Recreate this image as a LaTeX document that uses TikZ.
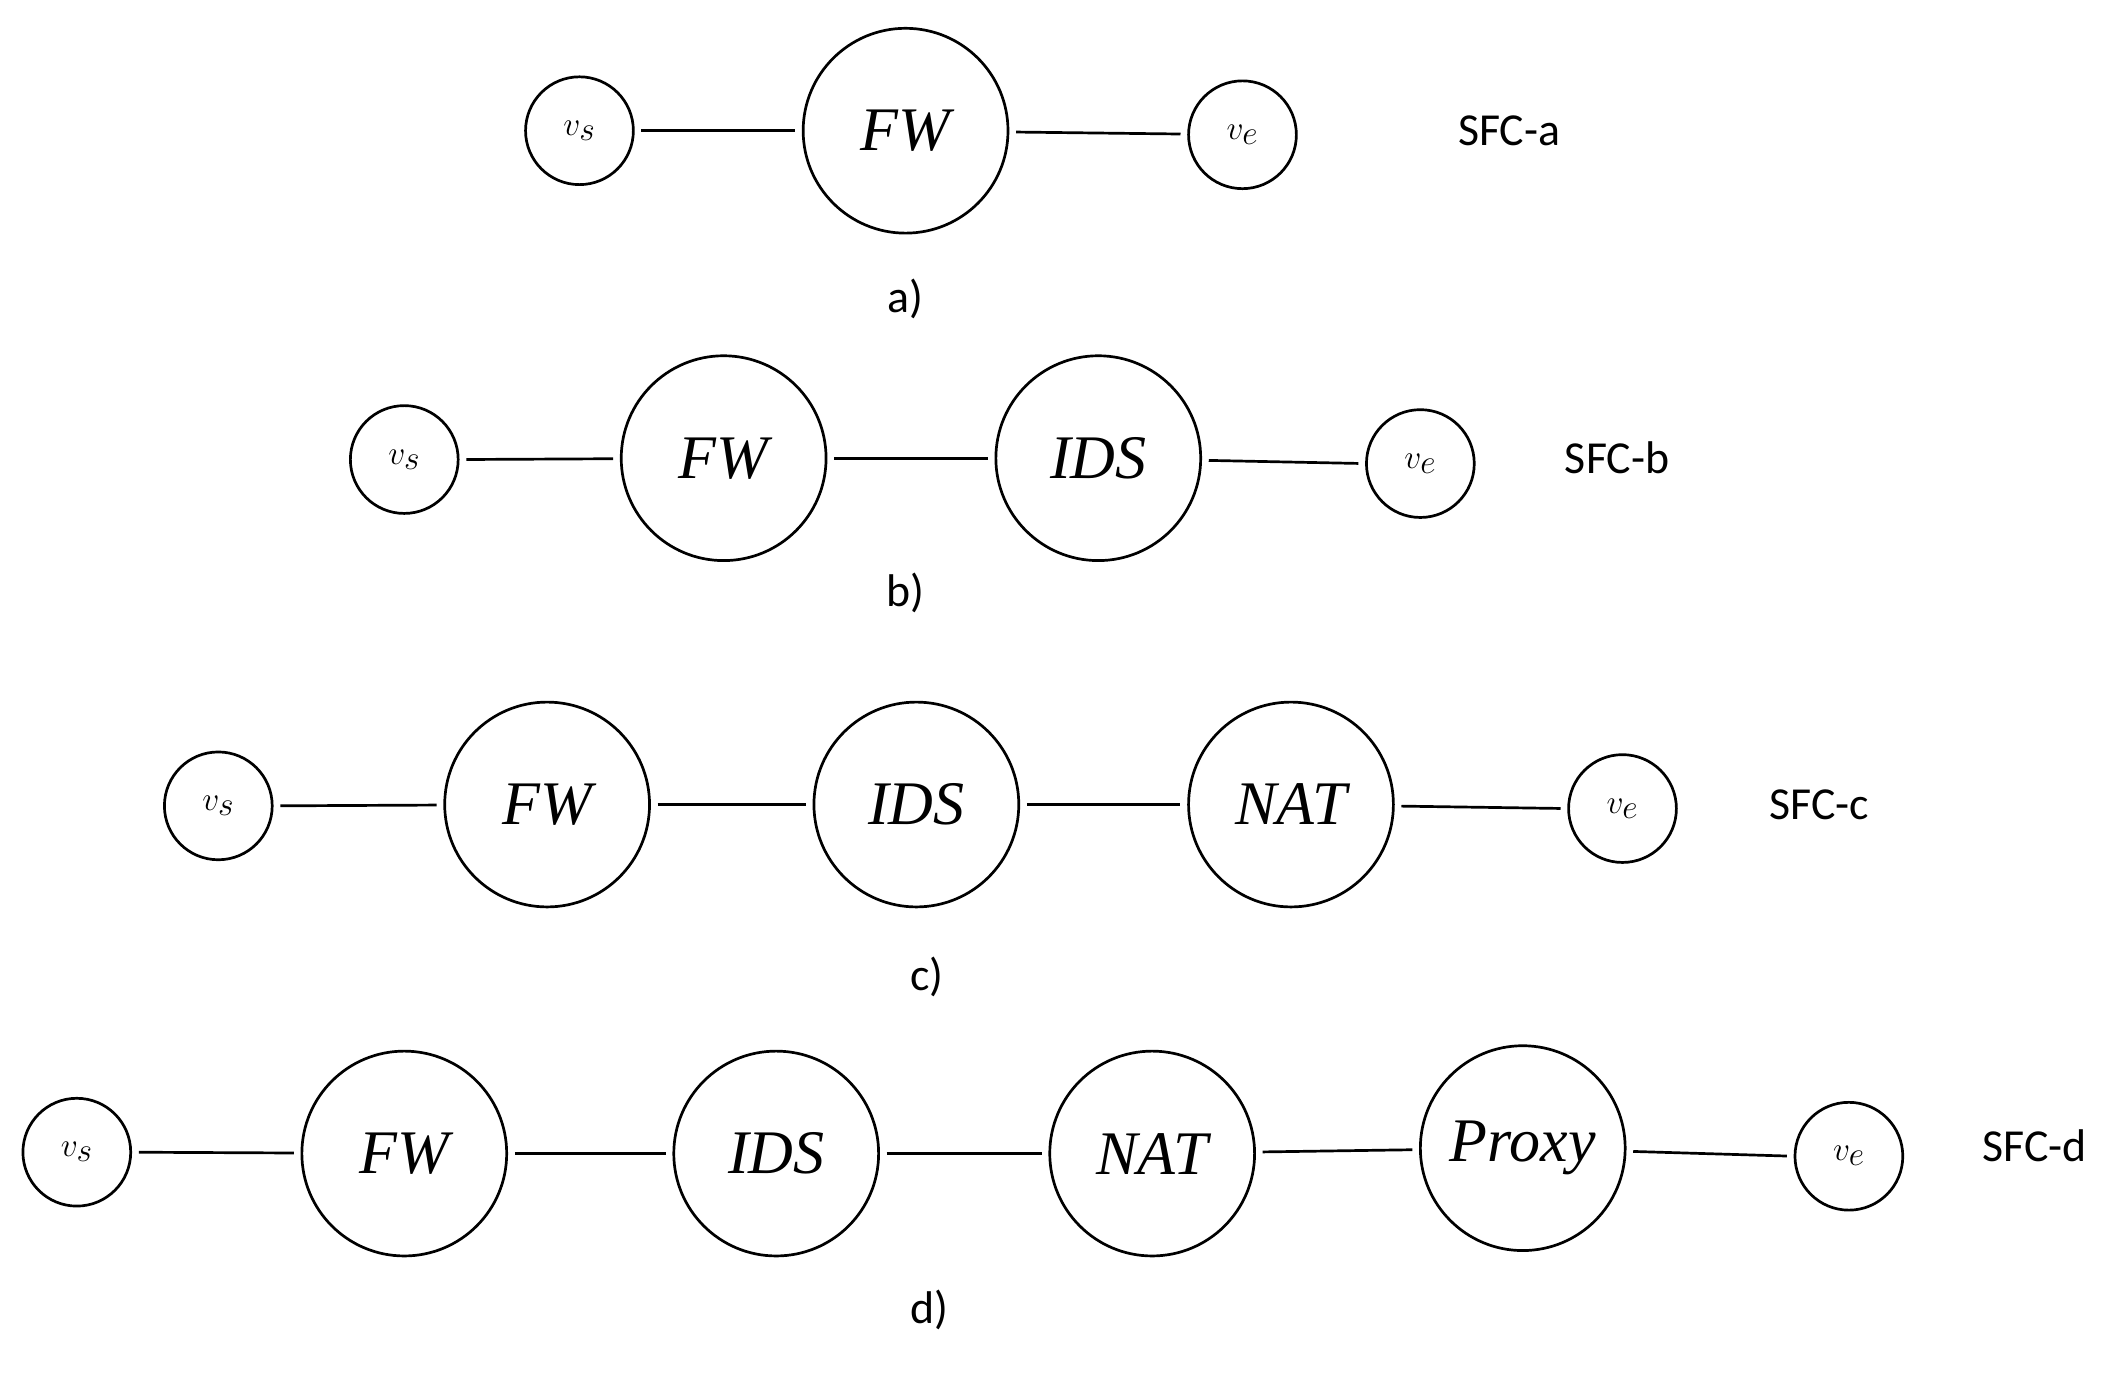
\documentclass[tikz,border=0pt]{standalone}
\usepackage{fontspec}
\setmainfont{Liberation Serif}
\newfontfamily\lab{Carlito}
\begin{document}
\begin{tikzpicture}[x=1pt,y=-1pt,
  big/.style={circle,draw,line width=2pt,minimum size=152pt,inner sep=0pt,font=\fontsize{46}{50}\selectfont\itshape},
  sm/.style={circle,draw,line width=2pt,minimum size=80pt,inner sep=0pt,font=\fontsize{46}{50}\selectfont\itshape},
  ln/.style={line width=2pt,shorten <=5pt,shorten >=5pt},
  tag/.style={font=\fontsize{34}{40}\selectfont\lab},
  sub/.style={font=\fontsize{34}{40}\selectfont\lab}]
\useasboundingbox (0,0) rectangle (1568,1020);
% a
\node[sm] (as) at (430,97) {$v_s$};
\node[big] (af) at (672,97) {FW};
\node[sm] (ae) at (922,100) {$v_e$};
\draw[ln] (as) -- (af); \draw[ln] (af) -- (ae);
\node[tag] (at) at (1120,97) {SFC-a};
\node[sub] (ac) at (672,222) {a)};
% b
\node[sm] (bs) at (300,341) {$v_s$};
\node[big] (bf) at (537,340) {FW};
\node[big] (bi) at (815,340) {IDS};
\node[sm] (be) at (1054,344) {$v_e$};
\draw[ln] (bs.east) -- (bf); \draw[ln] (bf) -- (bi); \draw[ln] (bi) -- (be.west);
\node[tag] (bt) at (1200,340) {SFC-b};
\node[sub] (bc) at (672,440) {b)};
% c
\node[sm] (cs) at (162,598) {$v_s$};
\node[big] (cf) at (406,597) {FW};
\node[big] (ci) at (680,597) {IDS};
\node[big] (cn) at (958,597) {NAT};
\node[sm] (ce) at (1204,600) {$v_e$};
\draw[ln] (cs.east) -- (cf); \draw[ln] (cf) -- (ci); \draw[ln] (ci) -- (cn); \draw[ln] (cn) -- (ce.west);
\node[tag] (ct) at (1350,597) {SFC-c};
\node[sub] (cc) at (688,725) {c)};
% d
\node[sm] (ds) at (57,855) {$v_s$};
\node[big] (df) at (300,856) {FW};
\node[big] (di) at (576,856) {IDS};
\node[big] (dn) at (855,856) {NAT};
\node[big] (dp) at (1130,852) {Proxy};
\node[sm] (de) at (1372,858) {$v_e$};
\draw[ln] (ds.east) -- (df); \draw[ln] (df) -- (di); \draw[ln] (di) -- (dn); \draw[ln] (dn) -- (dp); \draw[ln] (dp) -- (de.west);
\node[tag] (dt) at (1510,850) {SFC-d};
\node[sub] (dc) at (690,972) {d)};
\end{tikzpicture}
\end{document}
